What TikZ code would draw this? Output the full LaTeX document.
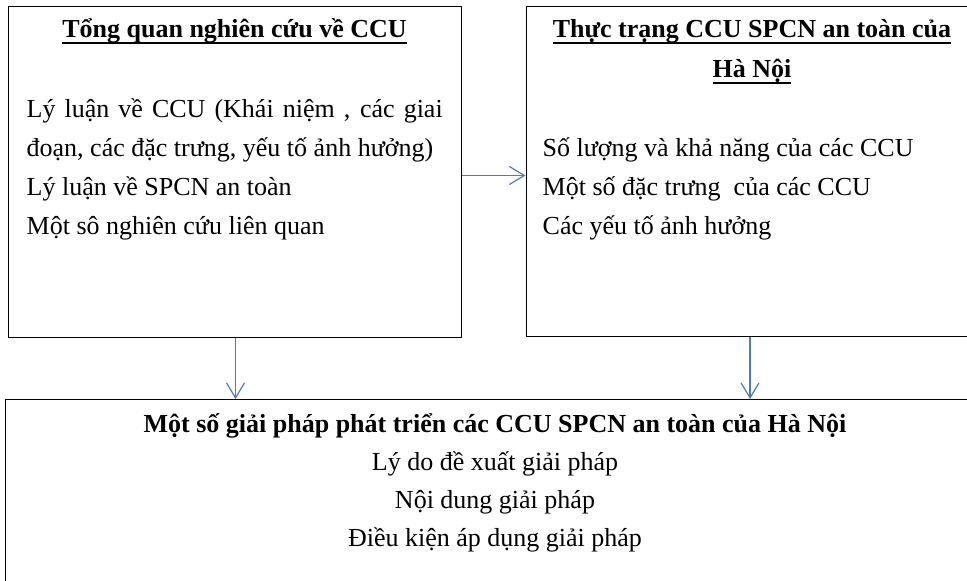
\documentclass[tikz,border=0pt]{standalone}
\usepackage{fontspec}
\setmainfont{Liberation Serif}
\usepackage{xcolor}
\usetikzlibrary{positioning,arrows.meta}
\definecolor{flowblue}{HTML}{4A7EBB}
% thick underline for the titles
\newcommand{\headul}[1]{\setbox0\hbox{#1}\rlap{\raisebox{-6pt}{\rule{\wd0}{1.8pt}}}\box0}

\begin{document}
\begin{tikzpicture}
[x=1pt, y=-1pt, font=\fontsize{26}{39}\selectfont,
% STYLES
every node/.style={inner sep=0pt},
% The panel style is used to draw the three frames
panel/.style={rectangle, draw, line width=1pt},
% The heading style is used for the underlined / bold titles
heading/.style={font=\fontsize{26}{40}\selectfont\bfseries, align=center, anchor=base},
% The items style is used for the lines listed in each frame (anchored on the last line)
items/.style={align=left, anchor=base west},
flow/.style={-{Straight Barb[length=15pt,width=18pt]}, flowblue, line width=1.2pt}]

\useasboundingbox (0,0) rectangle (967,581);

% Draw frames
\node [panel, minimum width=453pt, minimum height=331pt] (review) at (234.5,171.5) {};
\node [panel, minimum width=452pt, minimum height=330pt] (status) at (752,171) {};
\node [panel, minimum width=980pt, minimum height=220pt, anchor=north west] (solution) at (5,399) {};

%%%%%%%%%%%%%%%
% Change data from here

% review
\node [heading] (review-title) at ([yshift=-32pt]review.north) {\headul{Tổng quan nghiên cứu về CCU}};
\node [items] (review-items) at ([xshift=19pt, yshift=-229pt]review.north west) {\makebox[416pt][s]{Lý luận về CCU (Khái niệm , các giai}\\
đoạn, các đặc trưng, yếu tố ảnh hưởng)\\
Lý luận về SPCN an toàn\\
Một sô nghiên cứu liên quan};

% status
\node [heading] (status-title) at ([yshift=-72pt]status.north) {\headul{Thực trạng CCU SPCN an toàn của}\\
\headul{Hà Nội}};
\node [items] (status-items) at ([xshift=17pt, yshift=-229pt]status.north west) {Số lượng và khả năng của các CCU\\
Một số đặc trưng\ \ của các CCU\\
Các yếu tố ảnh hưởng};

% solution
\node [heading] (solution-title) at (495,432) {Một số giải pháp phát triển các CCU SPCN an toàn của Hà Nội};
\node [items, align=center, anchor=base, font=\fontsize{26}{38}\selectfont] (solution-items) at (495,546) {Lý do đề xuất giải pháp\\
Nội dung giải pháp\\
Điều kiện áp dụng giải pháp};

%%%%%%%%%%%%%%%

% Draw the links between frames
\draw [flow] ([yshift=-4pt]review.east) -- ([yshift=-4pt]review.east -| status.west);
\draw [flow] ([xshift=1pt]review.south) -- ([xshift=1pt]review.south |- solution.north);
\draw [flow] ([xshift=-2pt]status.south) -- ([xshift=-2pt]status.south |- solution.north);

\end{tikzpicture}
\end{document}
